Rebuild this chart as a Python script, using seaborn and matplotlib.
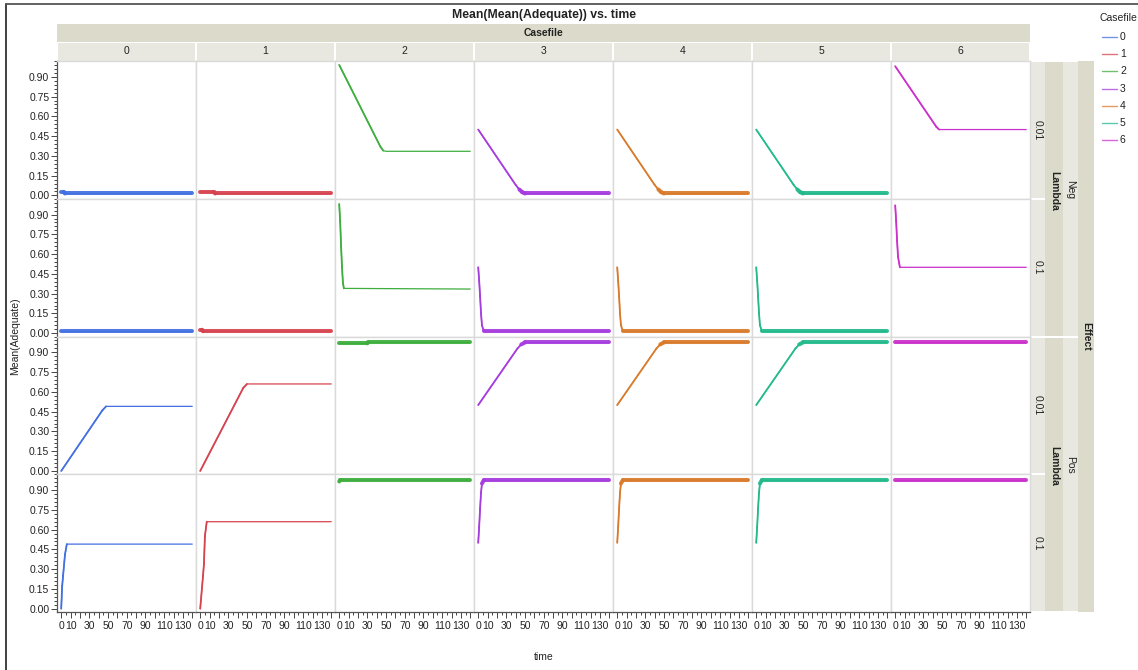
import numpy as np
import pandas as pd
import matplotlib
matplotlib.use("Agg")
import matplotlib.pyplot as plt
import seaborn as sns
from matplotlib.patches import Rectangle
from matplotlib.lines import Line2D
from matplotlib.ticker import FixedLocator, MultipleLocator, FuncFormatter

# ---------------------------------------------------------------- data
casefiles = ["0", "1", "2", "3", "4", "5", "6"]
effects = ["Neg", "Pos"]
lambdas = ["0.01", "0.1"]
palette = ["#4270E0", "#D6434F", "#3DAE3D", "#A63BDF", "#D97A2B", "#22B98B", "#CB30CB"]

# (time knots, Mean(Adequate) at those times) for every casefile
neg_001 = {
    "0": ([0, 3, 4, 140], [0.025, 0.025, 0.015, 0.015]),
    "1": ([0, 15, 16, 140], [0.026, 0.026, 0.015, 0.015]),
    "2": ([0, 44, 47, 50, 140], [0.99, 0.37, 0.34, 0.335, 0.335]),
    "3": ([0, 40, 44, 47, 50, 140], [0.50, 0.08, 0.045, 0.025, 0.015, 0.015]),
    "4": ([0, 40, 44, 47, 50, 140], [0.50, 0.08, 0.045, 0.025, 0.015, 0.015]),
    "5": ([0, 40, 44, 47, 50, 140], [0.50, 0.08, 0.045, 0.025, 0.015, 0.015]),
    "6": ([0, 44, 47, 140], [0.98, 0.52, 0.50, 0.50]),
}
neg_01 = {
    "0": ([0, 140], [0.015, 0.015]),
    "1": ([0, 2, 3, 140], [0.026, 0.026, 0.015, 0.015]),
    "2": ([0, 1, 2, 3, 4, 5, 140], [0.98, 0.85, 0.66, 0.50, 0.38, 0.34, 0.335]),
    "3": ([0, 1, 2, 3, 4, 6, 140], [0.50, 0.40, 0.28, 0.15, 0.06, 0.015, 0.015]),
    "4": ([0, 1, 2, 3, 4, 6, 140], [0.50, 0.40, 0.28, 0.15, 0.06, 0.015, 0.015]),
    "5": ([0, 1, 2, 3, 4, 6, 140], [0.50, 0.40, 0.28, 0.15, 0.06, 0.015, 0.015]),
    "6": ([0, 1, 2, 3, 5, 140], [0.97, 0.85, 0.70, 0.58, 0.50, 0.50]),
}
pos_001 = {
    "0": ([0, 44, 48, 140], [0.0, 0.46, 0.49, 0.49]),
    "1": ([0, 46, 50, 140], [0.0, 0.63, 0.66, 0.66]),
    "2": ([0, 30, 31, 140], [0.968, 0.968, 0.975, 0.975]),
    "3": ([0, 42, 46, 50, 140], [0.50, 0.93, 0.96, 0.975, 0.975]),
    "4": ([0, 42, 46, 50, 140], [0.50, 0.93, 0.96, 0.975, 0.975]),
    "5": ([0, 42, 46, 50, 140], [0.50, 0.93, 0.96, 0.975, 0.975]),
    "6": ([0, 140], [0.975, 0.975]),
}
pos_01 = {
    "0": ([0, 1, 2, 4, 6, 140], [0.0, 0.17, 0.25, 0.41, 0.49, 0.49]),
    "1": ([0, 3, 4, 5, 7, 140], [0.0, 0.25, 0.34, 0.55, 0.66, 0.66]),
    "2": ([0, 1, 140], [0.965, 0.975, 0.975]),
    "3": ([0, 1, 2, 3, 4, 6, 140], [0.50, 0.62, 0.76, 0.88, 0.95, 0.975, 0.975]),
    "4": ([0, 1, 2, 3, 4, 6, 140], [0.50, 0.62, 0.76, 0.88, 0.95, 0.975, 0.975]),
    "5": ([0, 1, 2, 3, 4, 6, 140], [0.50, 0.62, 0.76, 0.88, 0.95, 0.975, 0.975]),
    "6": ([0, 140], [0.975, 0.975]),
}
cells = {("Neg", "0.01"): neg_001, ("Neg", "0.1"): neg_01,
         ("Pos", "0.01"): pos_001, ("Pos", "0.1"): pos_01}

x_tick_labels = [0, 10, 30, 50, 70, 90, 110, 130]
y_ticks = [0.0, 0.15, 0.30, 0.45, 0.60, 0.75, 0.90]

records = []
for (eff, lam), series in cells.items():
    for cf, (ts, vs) in series.items():
        for t, v in zip(ts, vs):
            records.append({"Effect": eff, "Lambda": lam, "Casefile": cf,
                            "time": t, "Mean(Adequate)": v})
df = pd.DataFrame(records)

# ---------------------------------------------------------------- layout
W, H = 1138, 670
sns.set_theme(style="white")
plt.rcParams["font.family"] = ["Liberation Sans", "DejaVu Sans"]
plt.rcParams["font.size"] = 7.5

fig = plt.figure(figsize=(W / 100, H / 100), dpi=100)
fig.patch.set_facecolor("white")

X0, COLW = 57.0, 139.0
Y0, ROWH = 61.0, 137.75
DARK, LIGHT = "#DCDBCB", "#E8E8E0"
TXT = "#222222"


def fx(x):
    return x / W


def fy(y):
    return 1 - y / H


def rect(x0, y0, x1, y1, color):
    fig.add_artist(Rectangle((fx(x0), fy(y1)), (x1 - x0) / W, (y1 - y0) / H,
                             transform=fig.transFigure, facecolor=color,
                             edgecolor="none", zorder=0))


def text(x, y, s, **kw):
    kw.setdefault("color", TXT)
    kw.setdefault("ha", "center")
    kw.setdefault("va", "center")
    fig.text(fx(x), fy(y), s, **kw)


rows = [(e, l) for e in effects for l in lambdas]
for r, (eff, lam) in enumerate(rows):
    for c, cf in enumerate(casefiles):
        left = X0 + COLW * c
        top = Y0 + ROWH * r
        ax = fig.add_axes([fx(left), fy(top + ROWH), COLW / W, ROWH / H])
        sub = df[(df["Effect"] == eff) & (df["Lambda"] == lam) & (df["Casefile"] == cf)]
        color = palette[c]
        sns.lineplot(data=sub, x="time", y="Mean(Adequate)", ax=ax, color=color,
                     lw=0.9, estimator=None, sort=False, legend=False)
        # heavier strokes where the mean hugs its bounds, medium on the ramps
        t = sub["time"].to_numpy()
        v = sub["Mean(Adequate)"].to_numpy()
        for i in range(len(t) - 1):
            a, b = v[i], v[i + 1]
            if (a < 0.05 and b < 0.05) or (a > 0.93 and b > 0.93):
                lw = 2.9
            elif abs(b - a) > 0.02:
                lw = 1.3
            else:
                continue
            ax.plot(t[i:i + 2], v[i:i + 2], color=color, lw=lw,
                    solid_capstyle="round", alpha=0.92)

        ax.set_xlim(-4.5, 144)
        ax.set_ylim(-0.025, 1.02)
        ax.set_xlabel("")
        ax.set_ylabel("")
        ax.set_facecolor("white")
        for s in ax.spines.values():
            s.set_color("#DADADA")
            s.set_linewidth(1.0)
        if c == 0:
            ax.spines["left"].set_color("#555555")
            ax.spines["left"].set_linewidth(0.9)
        if r == len(rows) - 1:
            ax.spines["bottom"].set_color("#555555")
            ax.spines["bottom"].set_linewidth(0.9)

        ax.xaxis.set_major_locator(FixedLocator(list(range(0, 141, 10))))
        ax.xaxis.set_minor_locator(MultipleLocator(5))
        ax.xaxis.set_major_formatter(FuncFormatter(
            lambda val, pos: f"{int(round(val))}" if int(round(val)) in x_tick_labels else ""))
        ax.yaxis.set_major_locator(FixedLocator(y_ticks))
        ax.yaxis.set_minor_locator(MultipleLocator(0.03))
        ax.yaxis.set_major_formatter(FuncFormatter(lambda val, pos: f"{val:.2f}"))

        ax.tick_params(axis="x", which="both", bottom=(r == len(rows) - 1),
                       labelbottom=(r == len(rows) - 1), top=False,
                       direction="out", color="#444444", width=0.7,
                       labelsize=7.5, labelcolor=TXT, pad=2)
        ax.tick_params(axis="x", which="major", length=4.5)
        ax.tick_params(axis="x", which="minor", length=2.5)
        ax.tick_params(axis="y", which="both", left=(c == 0), labelleft=(c == 0),
                       right=False, direction="out", color="#444444", width=0.7,
                       labelsize=7.5, labelcolor=TXT, pad=1.5)
        ax.tick_params(axis="y", which="major", length=4)
        ax.tick_params(axis="y", which="minor", length=2.2)

# ---------------------------------------------------------------- strips
X_END = X0 + COLW * len(casefiles)
Y_END = Y0 + ROWH * len(rows)

rect(X0, 24, X_END, 42, DARK)
text((X0 + X_END) / 2, 33, "Casefile", fontweight="bold", fontsize=7.5)
for c, cf in enumerate(casefiles):
    l = X0 + COLW * c
    rect(l + 1, 42.5, l + COLW - 1, 61, LIGHT)
    text(l + COLW / 2, 51.5, cf, fontsize=7.5)

# value of Lambda for every row
for r, (eff, lam) in enumerate(rows):
    t0 = Y0 + ROWH * r
    rect(1030, t0 + 1, 1045, t0 + ROWH - 1, LIGHT)
    text(1038, t0 + ROWH / 2, lam, rotation=270, fontsize=7.5)
# Lambda title and Effect value for each effect group
for g, eff in enumerate(effects):
    t0 = Y0 + 2 * ROWH * g
    t1 = t0 + 2 * ROWH
    rect(1045, t0 + 1, 1063, t1 - 1, DARK)
    rect(1063, t0 + 1, 1078, t1 - 1, LIGHT)
    text(1054.5, (t0 + t1) / 2 - 8, "Lambda", rotation=270, fontweight="bold", fontsize=7.5)
    text(1070.5, (t0 + t1) / 2 - 9, eff, rotation=270, fontsize=7.5)
rect(1078, Y0, 1094, Y_END, DARK)
text(1086, (Y0 + Y_END) / 2, "Effect", rotation=270, fontweight="bold", fontsize=7.5)

# ---------------------------------------------------------------- titles
text((X0 + X_END) / 2, 15, "Mean(Mean(Adequate)) vs. time", fontweight="bold", fontsize=8.8)
text(15, (Y0 + Y_END) / 2, "Mean(Adequate)", rotation=90, fontsize=7.5)
text((X0 + X_END) / 2, 657, "time", fontsize=7.5)

# ---------------------------------------------------------------- legend
text(1099, 18, "Casefile", ha="left", fontsize=7.5)
for i, cf in enumerate(casefiles):
    yy = 37 + 17.2 * i
    fig.add_artist(Line2D([fx(1102), fx(1117)], [fy(yy), fy(yy)],
                          transform=fig.transFigure, color=palette[i], lw=1.0, alpha=0.75))
    text(1120, yy, cf, ha="left", fontsize=7.5)

# ---------------------------------------------------------------- frame
fig.add_artist(Line2D([fx(6), fx(6)], [fy(4), fy(H)], transform=fig.transFigure,
                      color="#333333", lw=1.3))
fig.add_artist(Line2D([fx(6), fx(W)], [fy(4), fy(4)], transform=fig.transFigure,
                      color="#555555", lw=1.3))

fig.savefig("out.png", dpi=100, facecolor="white")
